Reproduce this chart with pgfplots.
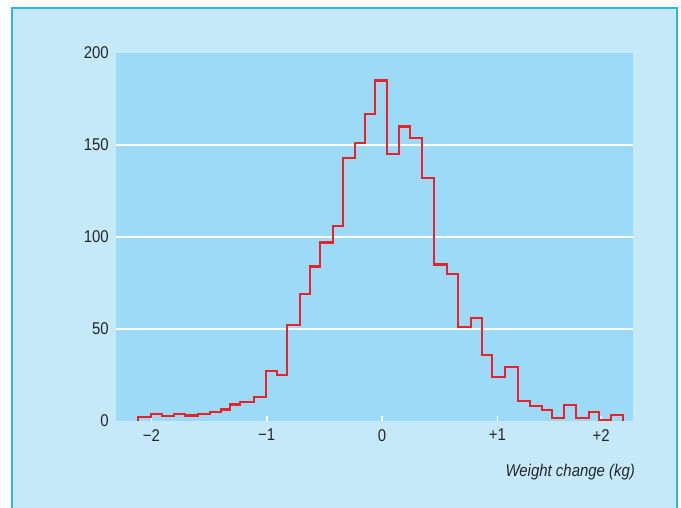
\documentclass[border=0pt]{standalone}
\usepackage{pgfplots}
\pgfplotsset{compat=1.18}
\usepackage{fontspec}
\setmainfont{Liberation Sans}[FakeStretch=0.88]
\definecolor{outerbg}{HTML}{C6E9FA}
\definecolor{innerbg}{HTML}{9CDAF8}
\definecolor{framec}{HTML}{2BB5E8}
\definecolor{histred}{HTML}{E8222B}
\begin{document}
\begin{tikzpicture}
\path[use as bounding box] (0pt,0pt) rectangle (681pt,508pt);
\fill[white] (0pt,0pt) rectangle (681pt,508pt);
\draw[fill=outerbg, draw=framec, line width=1.5pt] (12pt,-10pt) rectangle (677pt,500pt);
\begin{axis}[
  at={(116pt,87pt)}, anchor=south west,
  scale only axis, width=516.7pt, height=368pt,
  xmin=-2.307, xmax=2.174, ymin=0, ymax=200,
  axis background/.style={fill=innerbg},
  axis line style={draw=none},
  clip=false,
  xtick={-2,-1,0,1,1.9},
  xticklabels={−2,−1,0,+1,+2},
  ytick={0,50,100,150,200},
  extra y ticks={50,100,150},
  extra y tick labels={},
  extra y tick style={grid=major, major grid style={white, line width=1.6pt}, ytick style={draw=none}},
  ytick style={draw=none},
  xtick style={white, line width=1.6pt},
  tick align=inside,
  major tick length=5pt,
  xtick pos=bottom,
  /pgf/number format/assume math mode=true,
  every tick label/.append style={font=\fontsize{17}{20}\selectfont, text=black!85},
  yticklabel style={inner sep=0pt, xshift=-7pt},
  xticklabel style={inner sep=0pt, yshift=-8pt},
  xlabel={\itshape Weight change (kg)},
  xlabel style={at={(axis description cs:1,0)}, anchor=base east, inner sep=0pt,
    yshift=-55.7pt, xshift=2.5pt, font=\fontsize{17}{20}\selectfont, text=black!85},
]
\addplot[const plot mark left, histred, line width=2.2pt, line join=miter] coordinates {
(-2.114,0)
(-2.114,2) (-2.006,4) (-1.908,2.5) (-1.807,4) (-1.706,3)
(-1.593,3.6) (-1.489,5) (-1.399,6.3) (-1.318,9) (-1.229,10.5)
(-1.110,13) (-1.003,27) (-0.908,25) (-0.821,52) (-0.714,69)
(-0.627,84) (-0.540,97) (-0.425,106) (-0.341,143) (-0.232,151)
(-0.145,167) (-0.058,185) (0.041,145) (0.145,160) (0.245,154)
(0.347,132) (0.451,85) (0.561,80) (0.662,51) (0.775,56)
(0.870,36) (0.957,24) (1.067,29.5) (1.177,11) (1.284,8)
(1.388,6) (1.477,1.6) (1.576,8.7) (1.683,1.6) (1.798,5)
(1.885,0.4) (1.986,3.4)
(2.088,3.4) (2.088,0)
};
\end{axis}
\end{tikzpicture}
\end{document}
